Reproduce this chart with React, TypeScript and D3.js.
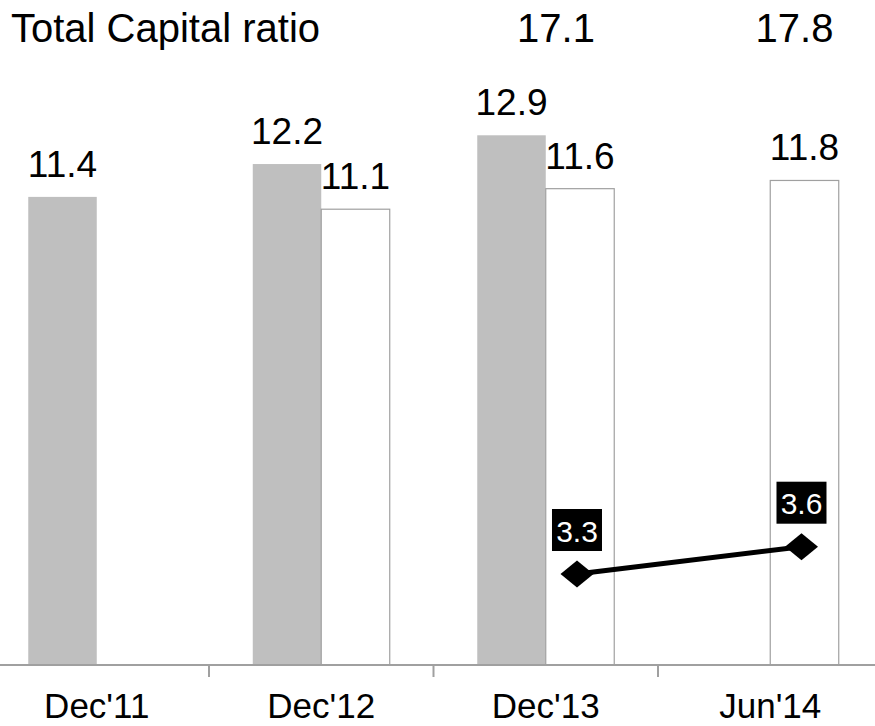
import React from "react";
import * as d3 from "d3";

// Periods on the category axis
const periods = ["Dec'11", "Dec'12", "Dec'13", "Jun'14"];
// Shaded bars (first series per period)
const shadedRatio: (number | null)[] = [11.4, 12.2, 12.9, null];
// Outlined bars (second series per period)
const outlinedRatio: (number | null)[] = [null, 11.1, 11.6, 11.8];
// Line series on its own scale
const lineRatio: (number | null)[] = [null, null, 3.3, 3.6];
// Header row values
const headerTitle = "Total Capital ratio";
const totalCapital: (number | null)[] = [null, null, 17.1, 17.8];

const W = 875;
const H = 726;
const FONT = "'Liberation Sans', Arial, Helvetica, sans-serif";

export default function App() {
  const baseY = 665;
  const topY = 8;

  const x0 = d3.scaleBand<string>().domain(periods).range([-15.5, 882.5]).padding(0);
  const x1 = d3
    .scaleBand<string>()
    .domain(["shaded", "outlined"])
    .range([0, x0.bandwidth()])
    .paddingInner(0)
    .paddingOuter(0.639);
  // header row columns are laid out slightly wider than the plot bands
  const xHead = d3.scaleBand<string>().domain(periods).range([-40.25, 913.75]).padding(0);
  const y = d3.scaleLinear().domain([0, 16]).range([baseY, topY]);
  const y2 = d3.scaleLinear().domain([2.3, 9.52]).range([baseY, topY]);

  const bw = x1.bandwidth();
  const fmt = d3.format(".1f");

  const linePts = periods
    .map((p, i) => ({ p, v: lineRatio[i] }))
    .filter((d) => d.v != null)
    .map((d) => [
      (x0(d.p) as number) + (x1("outlined") as number) + bw / 2 - 3,
      y2(d.v as number),
    ] as [number, number]);

  const linePath = d3.line()(linePts) || "";

  const diamond = (cx: number, cy: number) => {
    const hw = 16.5;
    const hh = 13.5;
    return `M${cx - hw},${cy}L${cx},${cy - hh}L${cx + hw},${cy}L${cx},${cy + hh}Z`;
  };

  const bars: React.ReactNode[] = [];
  const labels: React.ReactNode[] = [];
  periods.forEach((p, i) => {
    const series: [string, number | null][] = [
      ["shaded", shadedRatio[i]],
      ["outlined", outlinedRatio[i]],
    ];
    series.forEach(([key, v]) => {
      if (v == null) return;
      const bx = (x0(p) as number) + (x1(key) as number);
      const by = y(v);
      bars.push(
        <rect
          key={`b-${key}-${p}`}
          x={bx}
          y={by}
          width={bw}
          height={baseY - by}
          fill={key === "shaded" ? "#bfbfbf" : "#ffffff"}
          stroke={key === "shaded" ? "none" : "#a0a0a0"}
          strokeWidth={1.2}
        />
      );
      labels.push(
        <text
          key={`l-${key}-${p}`}
          x={bx + bw / 2}
          y={by - 20}
          textAnchor="middle"
          fontSize={37}
          fontFamily={FONT}
          fill="#000"
        >
          {fmt(v)}
        </text>
      );
    });
  });

  const ticks = periods.slice(1).map((p) => x0(p) as number);

  return (
    <svg
      width={W}
      height={H}
      style={{ position: "absolute", left: 0, top: 0, background: "#fff" }}
    >
      <rect x={0} y={0} width={W} height={H} fill="#fff" />

      {/* header row */}
      <text x={11} y={41.5} fontSize={40} fontFamily={FONT} fill="#000">
        {headerTitle}
      </text>
      {periods.map((p, i) =>
        totalCapital[i] == null ? null : (
          <text
            key={`tc-${p}`}
            x={(xHead(p) as number) + xHead.bandwidth() / 2}
            y={41.5}
            textAnchor="middle"
            fontSize={40}
            fontFamily={FONT}
            fill="#000"
          >
            {fmt(totalCapital[i] as number)}
          </text>
        )
      )}

      {bars}
      {labels}

      {/* axis */}
      <line x1={0} x2={W} y1={baseY} y2={baseY} stroke="#a0a0a0" strokeWidth={2} />
      {ticks.map((t, i) => (
        <line key={`t-${i}`} x1={t} x2={t} y1={baseY} y2={baseY + 12} stroke="#a0a0a0" strokeWidth={2} />
      ))}
      {periods.map((p) => (
        <text
          key={`c-${p}`}
          x={(x0(p) as number) + x0.bandwidth() / 2}
          y={718}
          textAnchor="middle"
          fontSize={35}
          fontFamily={FONT}
          fill="#000"
        >
          {p}
        </text>
      ))}

      {/* line series */}
      <path d={linePath} fill="none" stroke="#000" strokeWidth={5} />
      {linePts.map(([cx, cy], i) => (
        <path key={`d-${i}`} d={diamond(cx, cy)} fill="#000" />
      ))}
      {periods
        .map((p, i) => ({ p, v: lineRatio[i] }))
        .filter((d) => d.v != null)
        .map((d, i) => {
          const [cx, cy] = linePts[i];
          const boxW = 50;
          const boxH = 42;
          const bottom = cy - 23;
          return (
            <g key={`lb-${d.p}`}>
              <rect x={cx - boxW / 2} y={bottom - boxH} width={boxW} height={boxH} fill="#000" />
              <text
                x={cx}
                y={bottom - 9.5}
                textAnchor="middle"
                fontSize={30}
                fontFamily={FONT}
                fill="#fff"
              >
                {fmt(d.v as number)}
              </text>
            </g>
          );
        })}
    </svg>
  );
}
